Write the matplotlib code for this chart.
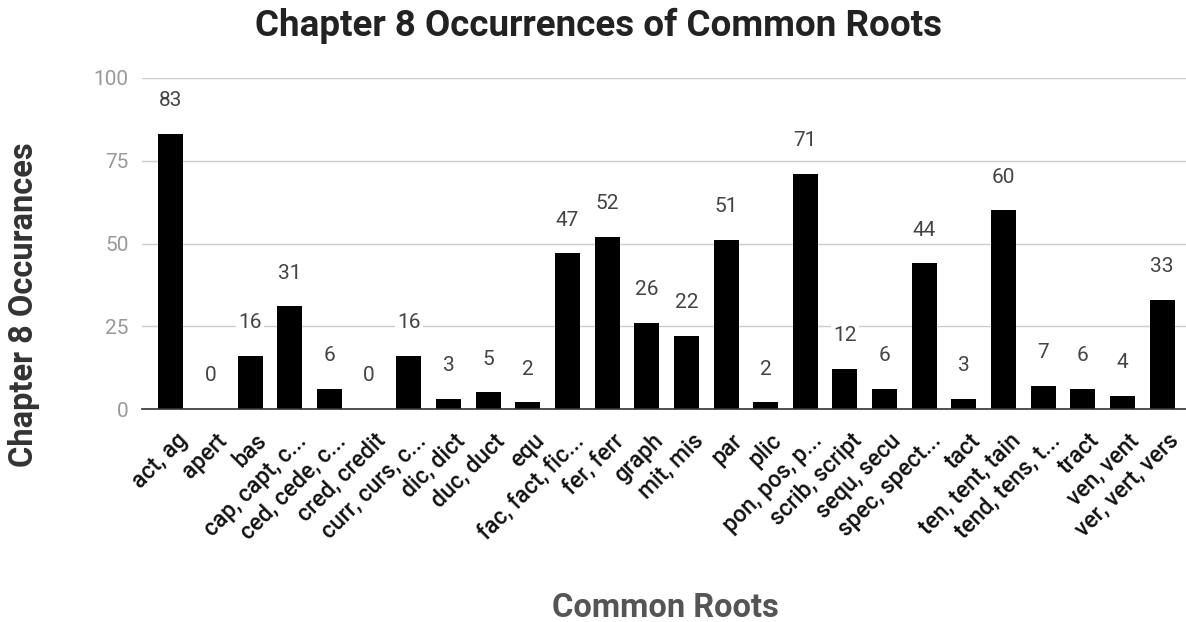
import matplotlib
matplotlib.use("Agg")
import matplotlib.pyplot as plt
from matplotlib.transforms import ScaledTranslation

plt.rcParams['font.family'] = ['Roboto', 'DejaVu Sans']

roots = ["act, ag", "apert", "bas", "cap, capt, c...", "ced, cede, c...",
         "cred, credit", "curr, curs, c...", "dic, dict", "duc, duct", "equ",
         "fac, fact, fic...", "fer, ferr", "graph", "mit, mis", "par", "plic",
         "pon, pos, p...", "scrib, script", "sequ, secu", "spec, spect...",
         "tact", "ten, tent, tain", "tend, tens, t...", "tract", "ven, vent",
         "ver, vert, vers"]
occurrences = [83, 0, 16, 31, 6, 0, 16, 3, 5, 2, 47, 52, 26, 22, 51, 2,
               71, 12, 6, 44, 3, 60, 7, 6, 4, 33]
y_ticks = [0, 25, 50, 75, 100]

fig = plt.figure(figsize=(11.86, 6.22), dpi=100)
ax = fig.add_axes([0.12, 0.3424, 0.88, 0.5322])

x = list(range(len(roots)))
ax.bar(x, occurrences, width=0.63, color="black", zorder=3)

for xi, v in zip(x, occurrences):
    ax.annotate(str(v), (xi, v), xytext=(0, 24), textcoords="offset points",
                ha="center", va="center", fontsize=15, color="#444444",
                zorder=4,
                bbox=dict(boxstyle="square,pad=0.1", fc="white", ec="none"))

ax.set_ylim(0, 100)
ax.set_xlim(-0.72, len(roots) - 0.4)
ax.set_yticks(y_ticks)
ax.set_yticklabels([str(t) for t in y_ticks], color="#999999", fontsize=15)
ax.yaxis.grid(True, color="#cccccc", linewidth=1, zorder=0)
ax.tick_params(axis="y", length=0, pad=10)
ax.tick_params(axis="x", length=0, pad=0)

ax.set_xticks(x)
ax.set_xticklabels(roots, rotation=45, ha="right", va="top",
                   rotation_mode="anchor", fontsize=16.5, fontweight=500,
                   color="#111111")
shift = ScaledTranslation(5 / 100, -20 / 100, fig.dpi_scale_trans)
for lab in ax.get_xticklabels():
    lab.set_transform(lab.get_transform() + shift)

for side in ["top", "right", "left"]:
    ax.spines[side].set_visible(False)
ax.spines["bottom"].set_color("#333333")
ax.spines["bottom"].set_linewidth(1.2)
ax.spines["bottom"].set_zorder(5)

fig.text(0.505, 0.942, "Chapter 8 Occurrences of Common Roots", ha="center",
         va="baseline", fontsize=26.5, fontweight="bold", color="#222222")
fig.text(0.0278, 0.5105, "Chapter 8 Occurances", ha="center", va="baseline",
         rotation=90, rotation_mode="anchor", fontsize=23.5,
         fontweight="bold", color="#333333")
fig.text(0.561, 0.008, "Common Roots", ha="center", va="baseline",
         fontsize=23.5, fontweight="bold", color="#555555")

fig.savefig("out.png", dpi=100, facecolor="white")
